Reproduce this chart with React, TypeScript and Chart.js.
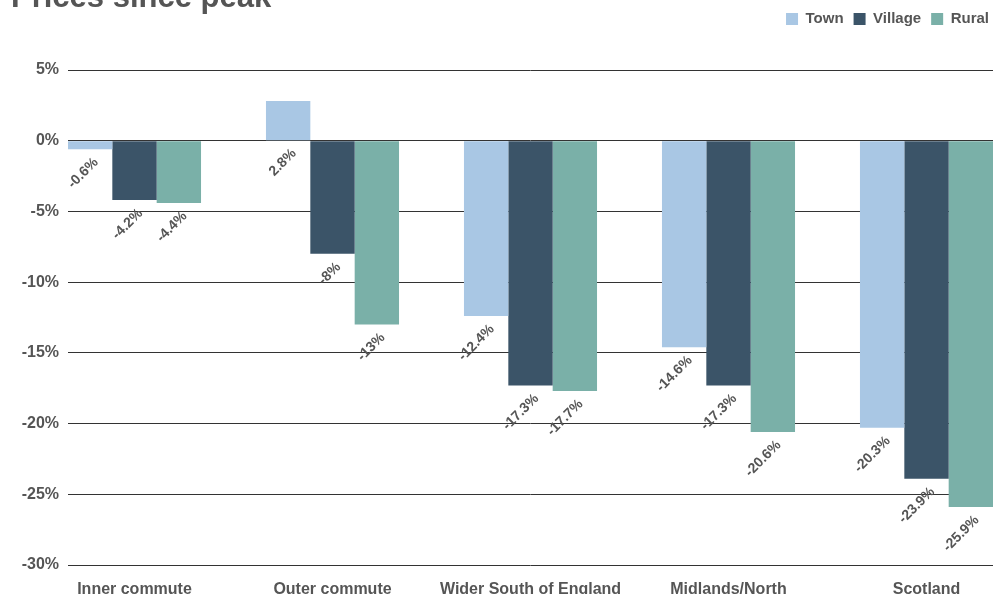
import React, { useEffect, useRef } from "react";
import { Chart, registerables } from "chart.js";

Chart.register(...registerables);

const categories = ["Inner commute", "Outer commute", "Wider South of England", "Midlands/North", "Scotland"];
const townValues = [-0.6, 2.8, -12.4, -14.6, -20.3];
const villageValues = [-4.2, -8, -17.3, -17.3, -23.9];
const ruralValues = [-4.4, -13, -17.7, -20.6, -25.9];
const seriesNames = ["Town", "Village", "Rural"];
const seriesColors = ["#A9C7E4", "#3B5468", "#7AB0A8"];
const yTicks = [5, 0, -5, -10, -15, -20, -25, -30];
const titleText = "Prices since peak";

const FONT = "'Liberation Sans', Arial, Helvetica, sans-serif";
const GRAY = "#555555";

const valueLabels = {
  id: "valueLabels",
  afterLayout(chart: any) {
    if (chart.legend) {
      chart.legend.left += 6;
      chart.legend.right += 6;
    }
  },
  afterDatasetsDraw(chart: any) {
    const ctx = chart.ctx;
    chart.data.datasets.forEach((ds: any, di: number) => {
      const meta = chart.getDatasetMeta(di);
      meta.data.forEach((el: any, i: number) => {
        const v = ds.data[i];
        const lower = Math.max(el.y, el.base);
        ctx.save();
        ctx.translate(el.x + 6, lower + 11);
        ctx.rotate(-Math.PI / 4);
        ctx.textAlign = "right";
        ctx.textBaseline = "middle";
        ctx.font = `bold 14px ${FONT}`;
        ctx.fillStyle = GRAY;
        ctx.fillText(`${v}%`, 0, 0);
        ctx.restore();
      });
    });
  },
};

export default function App() {
  const ref = useRef<HTMLCanvasElement | null>(null);
  useEffect(() => {
    if (!ref.current) return;
    Chart.defaults.font.family = FONT;
    const values = [townValues, villageValues, ruralValues];
    const chart = new Chart(ref.current, {
      type: "bar",
      data: {
        labels: categories,
        datasets: seriesNames.map((n, i) => ({
          label: n,
          data: values[i],
          backgroundColor: seriesColors[i],
          borderWidth: 0,
          categoryPercentage: 0.672,
          barPercentage: 1,
        })),
      },
      options: {
        animation: false,
        responsive: true,
        maintainAspectRatio: false,
        layout: { padding: { top: 1.5, left: 11, right: 9, bottom: 0 } },
        plugins: {
          tooltip: { enabled: false },
          legend: {
            position: "top",
            align: "end",
            labels: {
              boxWidth: 12,
              boxHeight: 12,
              padding: 10,
              color: GRAY,
              font: { size: 15, weight: "bold", family: FONT },
            },
          },
          title: {
            display: true,
            text: titleText,
            align: "start",
            position: "top",
            weight: 500,
            color: GRAY,
            font: { size: 31, weight: "bold", family: FONT, lineHeight: 1.2 },
            padding: { top: -57.1, bottom: 53.4 },
          },
        },
        scales: {
          x: {
            grid: { display: false },
            border: { display: false },
            ticks: {
              color: GRAY,
              font: { size: 16, weight: "bold", family: FONT },
              padding: 7,
              maxRotation: 0,
              autoSkip: false,
            },
            afterFit: (s: any) => {
              s.height = 29;
            },
            afterBuildTicks: (s: any) => {
              const len = 925;
              const step = 198;
              s._valueRange = len / step;
              s._startValue = -(134.5 - 68) / step;
            },
          },
          y: {
            min: -30,
            max: 5,
            afterBuildTicks: (s: any) => {
              s.ticks = yTicks.map((v) => ({ value: v }));
            },
            grid: { color: "#333333", lineWidth: 1, drawTicks: false },
            border: { display: false },
            ticks: {
              stepSize: 5,
              color: GRAY,
              padding: 9,
              font: { size: 16, weight: "bold", family: FONT },
              callback: (v: any) => `${v}%`,
            },
            afterFit: (s: any) => {
              s.width = 57;
            },
          },
        },
      },
      plugins: [valueLabels],
    });
    return () => chart.destroy();
  }, []);
  return (
    <div style={{ position: "fixed", left: 0, top: 0, width: 1002, height: 594 }}>
      <canvas ref={ref} />
    </div>
  );
}
